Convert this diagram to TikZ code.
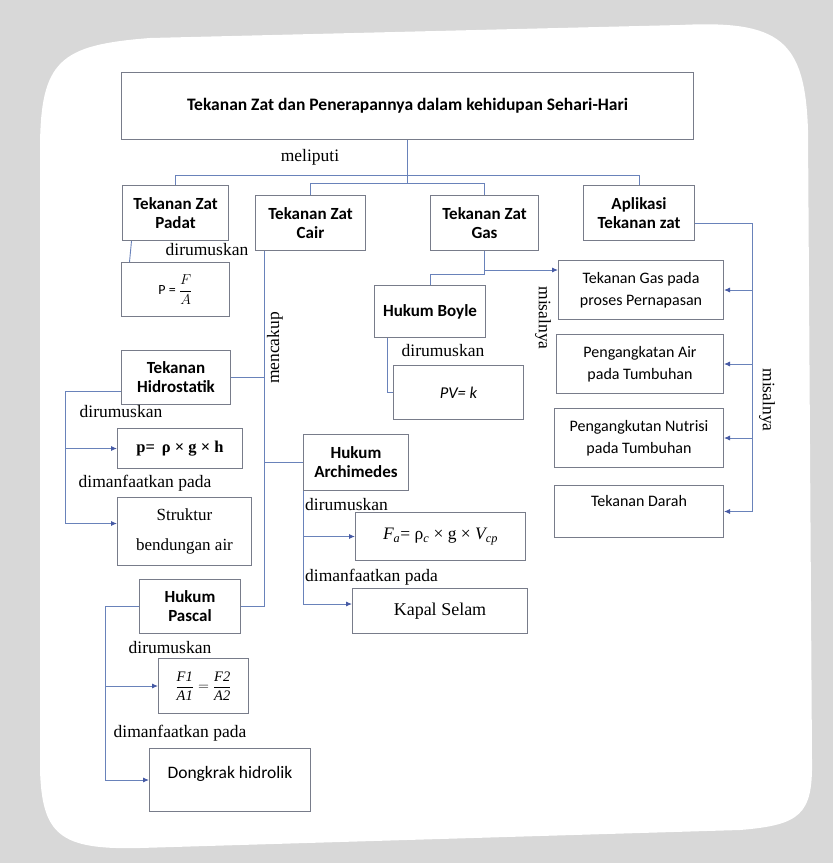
\documentclass[tikz,border=0pt]{standalone}
\usepackage{fontspec}
\setmainfont{Liberation Serif}
\newfontfamily\calfont{Carlito}
\usetikzlibrary{arrows.meta}

\definecolor{latar}{RGB}{216,216,216}
\definecolor{garis}{RGB}{105,130,186}
\definecolor{tepi}{RGB}{120,124,138}
\definecolor{ujung}{RGB}{70,90,165}

\tikzset{
  kotak/.style={draw=tepi, line width=1pt, fill=white, align=center, inner sep=1pt,
    font=\calfont\bfseries\fontsize{17}{19}\selectfont},
  kotakisi/.style={kotak, font=\calfont\fontsize{16}{22}\selectfont},
  kotakser/.style={kotak, font=\fontsize{17}{20}\selectfont},
  ukuran/.style 2 args={minimum width=#1pt, minimum height=#2pt, anchor=north west},
  ket/.style={inner sep=0pt, font=\fontsize{17.5}{20}\selectfont},
  hub/.style={draw=garis, line width=0.9pt},
  panah/.style={hub, -{Latex[length=6pt,width=5pt,color=ujung]}},
}

\begin{document}
\begin{tikzpicture}[x=1pt,y=-1pt]
\useasboundingbox (0,0) rectangle (833,863);
% latar belakang
\fill[latar] (0,0) rectangle (833,863);
\fill[white] (40,150) .. controls (40,60) and (60,45) .. (150,38) -- (680,25)
    .. controls (780,20) and (805,40) .. (808,130) -- (812,760)
    .. controls (813,815) and (800,825) .. (740,830) -- (140,848)
    .. controls (60,850) and (42,835) .. (40,770) -- cycle;

% judul dan cabang utama
\node[kotak, ukuran={572}{67}, font=\calfont\bfseries\fontsize{17.5}{20}\selectfont] (judul) at (121,72)
    {Tekanan Zat dan Penerapannya dalam kehidupan Sehari-Hari};
\node[kotak, ukuran={106}{55}] (padat)    at (122,185) {Tekanan Zat\\Padat};
\node[kotak, ukuran={110}{55}] (cair)     at (255,195) {Tekanan Zat\\Cair};
\node[kotak, ukuran={108}{55}] (gas)      at (430,195) {Tekanan Zat\\Gas};
\node[kotak, ukuran={111}{55}] (aplikasi) at (583,185) {Aplikasi\\Tekanan zat};
\node[ket] (meliputi) at (310,157) {meliputi};

\coordinate (cab1) at (0,175);
\coordinate (cab2) at (0,183);
\draw[hub] (judul.south) -- (judul.south |- cab2);
\draw[hub] (padat.north) |- (aplikasi.north |- cab1) -- (aplikasi.north);
\draw[hub] (cair.north) |- (gas.north |- cab2) -- (gas.north);

% zat padat
\node[kotak, ukuran={108}{54}, font=\calfont\fontsize{14}{16}\selectfont] (rumusP) at (121,262)
    {P = $\displaystyle\frac{F}{A}$};
\node[ket] (dirumuskanP) at (207,250) {dirumuskan};
\draw[hub] ([xshift=-44pt]padat.south) -- ([xshift=-46pt]rumusP.north);

% zat cair
\node[kotak, ukuran={109}{54}] (hidro)  at (121,350) {Tekanan\\Hidrostatik};
\node[kotak, ukuran={105}{56}] (archi)  at (303,434) {Hukum\\Archimedes};
\node[kotak, ukuran={101}{54}] (pascal) at (139,579) {Hukum\\Pascal};
\coordinate (cairx) at ([xshift=-46pt]cair.south);
\draw[hub] (cairx) |- (pascal.east);
\draw[hub] (hidro.east) -- (hidro.east -| cairx);
\draw[hub] (archi.west) -- (archi.west -| cairx);
\node[ket, rotate=90] (mencakup) at (275,348) {mencakup};

% tekanan hidrostatik
\node[kotakser, ukuran={125}{40}, font=\bfseries\fontsize{16.5}{20}\selectfont] (rumusHidro) at (117,428)
    {p=\, ρ × g × h};
\node[kotakser, ukuran={134}{68}] (struktur) at (117,497) {Struktur\\[10pt]bendungan air};
\node[ket] (dirumuskanH)  at (121,412) {dirumuskan};
\node[ket] (manfaatH)     at (145,483) {dimanfaatkan pada};
\coordinate (kiriH) at ([yshift=-14pt]hidro.west -| 65,0);
\draw[panah] ([yshift=-14pt]hidro.west) -- (kiriH) |- (rumusHidro.west);
\draw[panah] (kiriH) |- ([yshift=8pt]struktur.west);

% hukum archimedes
\node[kotakser, ukuran={170}{48}, font=\fontsize{17.5}{20}\selectfont] (rumusArchi) at (355,512)
    {\itshape F\textsubscript{a}\upshape = ρ\textsubscript{\itshape c} × g × \itshape V\textsubscript{cp}};
\node[kotakser, ukuran={175}{45}, font=\fontsize{18}{20}\selectfont] (kapal) at (352,588) {Kapal Selam};
\node[ket, anchor=west] (dirumuskanA) at (305,505) {dirumuskan};
\node[ket, anchor=west] (manfaatA)    at (305,577) {dimanfaatkan pada};
\draw[panah] (archi.south west) |- (rumusArchi.west);
\draw[panah] (archi.south west) |- ([yshift=7pt]kapal.west);

% hukum pascal
\node[kotak, ukuran={90}{55}, font=\fontsize{14.5}{16}\selectfont] (rumusPascal) at (158,658)
    {$\displaystyle\frac{\mathit{F1}}{\mathit{A1}}=\frac{\mathit{F2}}{\mathit{A2}}$};
\node[kotakisi, ukuran={161}{63}, font=\calfont\fontsize{17.5}{20}\selectfont, text depth=16pt] (dongkrak) at (149,748)
    {Dongkrak hidrolik};
\node[ket] (dirumuskanPa) at (170,648) {dirumuskan};
\node[ket] (manfaatPa)    at (180,733) {dimanfaatkan pada};
\coordinate (kiriP) at (pascal.west -| 105,0);
\draw[panah] (pascal.west) -- (kiriP) |- (rumusPascal.west);
\draw[panah] (kiriP) |- (dongkrak.west);

% zat gas
\node[kotak, ukuran={111}{52}] (boyle) at (374,285) {Hukum Boyle};
\node[kotakisi, ukuran={130}{54}, font=\calfont\itshape\fontsize{16.5}{19}\selectfont] (rumusBoyle) at (393,365) {PV= k};
\node[ket] (dirumuskanB) at (443,351) {dirumuskan};
\coordinate (gasB) at ([yshift=-19pt]gas.south);
\draw[hub] (gas.south) -- ([yshift=-23pt]gas.south) -| (boyle.north);
\draw[hub] ([xshift=13pt]boyle.south west) |- (rumusBoyle.west);

% aplikasi
\node[kotakisi, ukuran={165}{59}] (gasNafas)    at (558,260) {Tekanan Gas pada\\proses Pernapasan};
\node[kotakisi, ukuran={167}{59}] (airTumbuhan) at (556,334) {Pengangkatan Air\\pada Tumbuhan};
\node[kotakisi, ukuran={169}{59}] (nutrisi)     at (554,408) {Pengangkutan Nutrisi\\pada Tumbuhan};
\node[kotakisi, ukuran={169}{52}, text depth=22pt] (darah) at (554,485) {Tekanan Darah};
\draw[panah] (gasB) -- (gasB -| gasNafas.west);
\node[ket, rotate=-90] (misalnyaG) at (543,318) {misalnya};

\coordinate (kananA) at ([yshift=-10pt]aplikasi.east -| 752,0);
\draw[panah] ([yshift=-10pt]aplikasi.east) -- (kananA) |- (darah.east);
\foreach \b in {gasNafas,airTumbuhan,nutrisi}
  \draw[panah] (\b.east -| kananA) -- (\b.east);
\node[ket, rotate=-90] (misalnyaA) at (767,400) {misalnya};
\end{tikzpicture}
\end{document}
